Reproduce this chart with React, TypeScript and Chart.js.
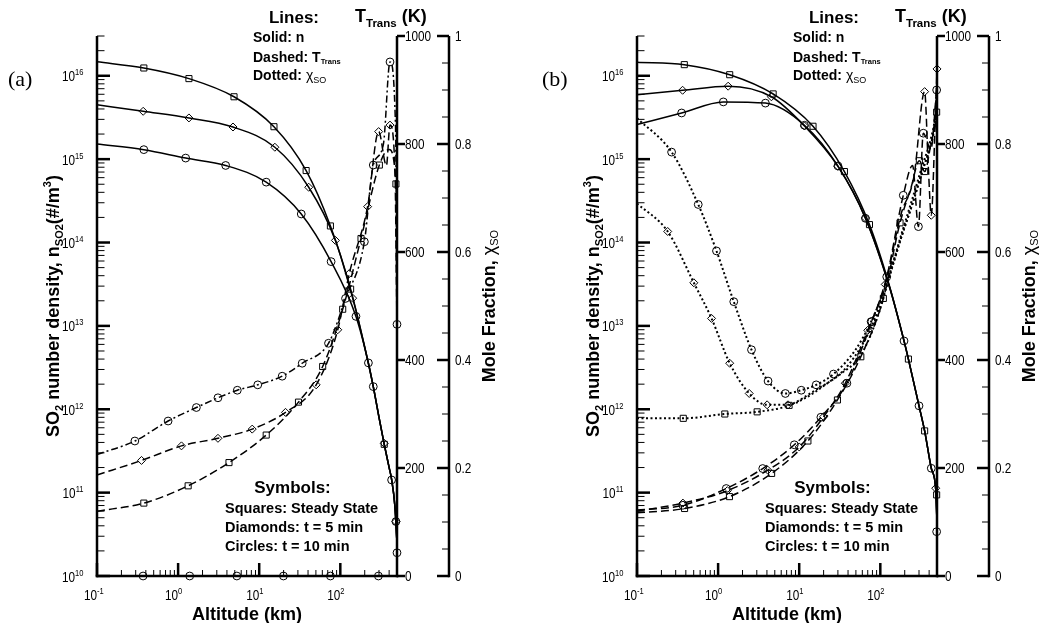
import React, { useEffect, useRef } from "react";
import { Chart, registerables } from "chart.js";

Chart.register(...registerables);

type Pt = [number, number];

// ---------- axis ranges / ticks ----------
const X_MIN = 0.1;
const X_MAX = 500;
const N_MIN = 1e10;
const N_MAX = 3e16;
const T_MIN = 0;
const T_MAX = 1000;
const M_MIN = 0;
const M_MAX = 1;
const X_DECADES = [-1, 0, 1, 2];
const N_DECADES = [10, 11, 12, 13, 14, 15, 16];
const T_TICKS = [0, 200, 400, 600, 800, 1000];
const M_TICKS = [0, 0.2, 0.4, 0.6, 0.8, 1];
const M_MINOR = [0.05, 0.1, 0.15, 0.25, 0.3, 0.35, 0.45, 0.5, 0.55, 0.65, 0.7, 0.75, 0.85, 0.9, 0.95];

// ---------- panel (a) : number density n (log axis) ----------
const aNSquares: Pt[] = [[0.1, 1.47e16], [0.378, 1.24e16], [1.36, 9.25e15], [4.89, 5.6e15], [15.2, 2.45e15], [37.9, 7.3e14], [75.5, 1.58e14], [134, 2.76e13], [200, 5.5e12], [255, 1.87e12], [300, 8e11], [348, 3.8e11], [400, 2e11], [430, 1.42e11], [470, 7e10], [500, 2.5e10]];
const aNSquaresMk: Pt[] = [[0.378, 1.24e16], [1.36, 9.25e15], [4.89, 5.6e15], [15.2, 2.45e15], [37.9, 7.3e14], [75.5, 1.58e14], [134, 2.76e13], [348, 3.8e11]];
const aNDiamonds: Pt[] = [[0.1, 4.5e15], [0.371, 3.75e15], [1.36, 3.12e15], [4.75, 2.43e15], [15.6, 1.39e15], [40.8, 4.6e14], [87, 1.06e14], [142, 2.15e13], [200, 5.6e12], [255, 1.87e12], [300, 8e11], [348, 3.8e11], [400, 2e11], [430, 1.42e11], [470, 7e10], [500, 2.5e10]];
const aNDiamondsMk: Pt[] = [[0.371, 3.75e15], [1.36, 3.12e15], [4.75, 2.43e15], [15.6, 1.39e15], [40.8, 4.6e14], [87, 1.06e14], [142, 2.15e13], [348, 3.9e11], [485, 4.5e10]];
const aNCircles: Pt[] = [[0.1, 1.52e15], [0.378, 1.3e15], [1.24, 1.03e15], [3.86, 8.4e14], [12.2, 5.3e14], [33, 2.2e14], [77, 5.9e13], [156, 1.3e13], [222, 3.6e12], [255, 1.87e12], [300, 8e11], [348, 3.8e11], [400, 2e11], [430, 1.42e11], [470, 7e10], [500, 2.5e10]];
const aNCirclesMk: Pt[] = [[0.378, 1.3e15], [1.24, 1.03e15], [3.86, 8.4e14], [12.2, 5.3e14], [33, 2.2e14], [77, 5.9e13], [156, 1.3e13], [222, 3.6e12], [255, 1.87e12], [429, 1.42e11], [485, 4.5e10], [500, 1.9e10]];

// ---------- panel (a) : translational temperature (K) ----------
const aTSquares: Pt[] = [[0.1, 120], [0.378, 135], [1.33, 167], [4.24, 210], [12.2, 261], [30.5, 322], [60.6, 388], [107, 494], [180, 625], [303, 761], [400, 790], [485, 726], [500, 440]];
const aTSquaresMk: Pt[] = [[0.378, 135], [1.33, 167], [4.24, 210], [12.2, 261], [30.5, 322], [60.6, 388], [107, 494], [180, 625], [303, 761], [485, 726]];
const aTDiamonds: Pt[] = [[0.1, 187], [0.354, 214], [1.1, 241], [3.1, 255], [8.2, 272], [21.1, 303], [50.4, 354], [93, 456], [129, 560], [217, 684], [297, 823], [370, 760], [410, 835], [470, 760], [500, 460]];
const aTDiamondsMk: Pt[] = [[0.354, 214], [1.1, 241], [3.1, 255], [8.2, 272], [21.1, 303], [50.4, 354], [93, 456], [129, 560], [217, 684], [297, 823], [410, 835]];
const aTCircles: Pt[] = [[0.1, 225], [0.293, 250], [0.753, 287], [1.68, 312], [3.1, 330], [5.37, 344], [9.6, 354], [19.2, 370], [33.9, 394], [71.5, 431], [116, 514], [198, 619], [255, 761], [340, 800], [410, 952], [480, 830], [500, 466]];
const aTCirclesMk: Pt[] = [[0.293, 250], [0.753, 287], [1.68, 312], [3.1, 330], [5.37, 344], [9.6, 354], [19.2, 370], [33.9, 394], [71.5, 431], [116, 514], [198, 619], [255, 761], [410, 952], [500, 466]];

// ---------- panel (a) : SO mole fraction ----------
const aXCircles: Pt[] = [[0.1, 0], [500, 0]];
const aXCirclesMk: Pt[] = [[0.37, 0], [1.39, 0], [5.3, 0], [19.9, 0], [75.5, 0], [295, 0]];

// ---------- panel (b) : number density n ----------
const bNSquares: Pt[] = [[0.1, 1.45e16], [0.383, 1.36e16], [1.39, 1.03e16], [4.77, 6.06e15], [14.8, 2.48e15], [36.1, 7.1e14], [73.5, 1.64e14], [130, 3e13], [196, 6.6e12], [222, 4e12], [300, 1.1e12], [352, 5.5e11], [425, 1.96e11], [482, 1.1e11], [500, 4.5e10]];
const bNSquaresMk: Pt[] = [[0.383, 1.36e16], [1.39, 1.03e16], [4.77, 6.06e15], [14.8, 2.48e15], [36.1, 7.1e14], [73.5, 1.64e14], [222, 4e12], [352, 5.5e11], [495, 9.4e10]];
const bNDiamonds: Pt[] = [[0.1, 5.94e15], [0.365, 6.7e15], [1.33, 7.5e15], [4.54, 5.6e15], [11.6, 2.5e15], [30, 8.2e14], [65.6, 1.97e14], [130, 2.9e13], [196, 6.6e12], [222, 4e12], [300, 1.1e12], [352, 5.5e11], [425, 1.96e11], [482, 1.1e11], [500, 4.5e10]];
const bNDiamondsMk: Pt[] = [[0.365, 6.7e15], [1.33, 7.5e15], [4.54, 5.6e15], [11.6, 2.5e15], [30, 8.2e14], [65.6, 1.97e14], [482, 1.13e11]];
const bNCircles: Pt[] = [[0.1, 2.6e15], [0.355, 3.58e15], [1.16, 4.86e15], [3.83, 4.7e15], [11.6, 2.55e15], [30, 8.3e14], [65.6, 1.95e14], [130, 2.9e13], [196, 6.6e12], [222, 4e12], [300, 1.1e12], [352, 5.5e11], [425, 1.96e11], [482, 1.1e11], [500, 4.5e10]];
const bNCirclesMk: Pt[] = [[0.355, 3.58e15], [1.16, 4.86e15], [3.83, 4.7e15], [11.6, 2.55e15], [30, 8.3e14], [65.6, 1.95e14], [196, 6.6e12], [300, 1.1e12], [425, 1.96e11], [495, 3.4e10]];

// ---------- panel (b) : translational temperature ----------
const bTSquares: Pt[] = [[0.1, 117], [0.386, 125], [1.38, 147], [4.57, 190], [12.8, 250], [29.6, 326], [57.5, 406], [109, 514], [175, 654], [240, 720], [303, 769], [352, 749], [420, 800], [495, 859], [500, 870]];
const bTSquaresMk: Pt[] = [[0.386, 125], [1.38, 147], [4.57, 190], [12.8, 250], [29.6, 326], [57.5, 406], [109, 514], [175, 654], [303, 769], [352, 749], [495, 859]];
const bTDiamonds: Pt[] = [[0.1, 120], [0.368, 135], [1.3, 158], [4.1, 196], [10, 239], [20, 295], [37, 357], [70, 455], [115, 540], [180, 670], [260, 740], [352, 897], [390, 760], [425, 668], [470, 820], [500, 939]];
const bTDiamondsMk: Pt[] = [[0.368, 135], [1.3, 158], [4.1, 196], [10, 239], [20, 295], [37, 357], [70, 455], [115, 540], [352, 897], [425, 668], [500, 939]];
const bTCircles: Pt[] = [[0.1, 122], [0.368, 131], [1.26, 162], [3.55, 199], [8.7, 243], [18.5, 294], [38.7, 357], [78.5, 471], [120, 554], [192, 705], [250, 760], [295, 647], [339, 820], [420, 790], [495, 900], [500, 905]];
const bTCirclesMk: Pt[] = [[0.368, 131], [1.26, 162], [3.55, 199], [8.7, 243], [18.5, 294], [38.7, 357], [78.5, 471], [120, 554], [192, 705], [295, 647], [339, 820], [495, 900]];

// ---------- panel (b) : SO mole fraction ----------
const bXSquares: Pt[] = [[0.1, 0.292], [0.372, 0.292], [1.21, 0.3], [3.03, 0.304], [7.5, 0.316], [16.2, 0.345], [33, 0.375], [58, 0.41], [97.5, 0.49], [132, 0.56], [184, 0.63], [250, 0.69], [330, 0.75], [420, 0.8], [472, 0.84], [500, 0.89]];
const bXSquaresMk: Pt[] = [[0.372, 0.292], [1.21, 0.3], [3.03, 0.304], [7.5, 0.316]];
const bXDiamonds: Pt[] = [[0.1, 0.69], [0.239, 0.638], [0.502, 0.543], [0.83, 0.477], [1.39, 0.394], [2.42, 0.338], [4.02, 0.317], [7.28, 0.317], [12, 0.33], [20, 0.352], [40, 0.39], [77, 0.46], [115, 0.53], [184, 0.63], [250, 0.69], [330, 0.75], [420, 0.8], [472, 0.84], [500, 0.89]];
const bXDiamondsMk: Pt[] = [[0.239, 0.638], [0.502, 0.543], [0.83, 0.477], [1.39, 0.394], [2.42, 0.338], [4.02, 0.317], [7.28, 0.317]];
const bXCircles: Pt[] = [[0.1, 0.848], [0.267, 0.785], [0.569, 0.688], [0.955, 0.602], [1.56, 0.508], [2.58, 0.419], [4.13, 0.361], [6.75, 0.338], [10.6, 0.344], [16.2, 0.354], [26.5, 0.374], [50, 0.42], [77, 0.471], [115, 0.535], [184, 0.635], [250, 0.7], [330, 0.76], [420, 0.81], [472, 0.85], [500, 0.9]];
const bXCirclesMk: Pt[] = [[0.267, 0.785], [0.569, 0.688], [0.955, 0.602], [1.56, 0.508], [2.58, 0.419], [4.13, 0.361], [6.75, 0.338], [10.6, 0.344], [16.2, 0.354], [26.5, 0.374], [77, 0.471]];

// ---------- styling ----------
const FONT = '"Liberation Sans", Arial, Helvetica, sans-serif';
const SERIF = '"Liberation Serif", "Times New Roman", serif';
const TICK_SX = 0.84;

const LINE_STYLES: Record<string, { w: number; dash: number[] }> = {
  solid: { w: 1.5, dash: [] },
  dash: { w: 1.5, dash: [8, 4] },
  dashdot: { w: 1.5, dash: [7, 3, 2, 3] },
  dot: { w: 2, dash: [2, 2.5] },
};

type Curve = { pts: Pt[]; marks: Pt[]; axis: string; style: string; shape: string };

const PANELS: { key: string; letter: string; letterX: number; left: number; curves: Curve[] }[] = [
  {
    key: "a", letter: "(a)", letterX: 8, left: 0,
    curves: [
      { pts: aNSquares, marks: aNSquaresMk, axis: "y", style: "solid", shape: "rect" },
      { pts: aNDiamonds, marks: aNDiamondsMk, axis: "y", style: "solid", shape: "rectRot" },
      { pts: aNCircles, marks: aNCirclesMk, axis: "y", style: "solid", shape: "circle" },
      { pts: aTSquares, marks: aTSquaresMk, axis: "yT", style: "dash", shape: "rect" },
      { pts: aTDiamonds, marks: aTDiamondsMk, axis: "yT", style: "dash", shape: "rectRot" },
      { pts: aTCircles, marks: aTCirclesMk, axis: "yT", style: "dashdot", shape: "circle" },
      { pts: aXCircles, marks: aXCirclesMk, axis: "yM", style: "dot", shape: "circle" },
    ],
  },
  {
    key: "b", letter: "(b)", letterX: 2, left: 540,
    curves: [
      { pts: bNSquares, marks: bNSquaresMk, axis: "y", style: "solid", shape: "rect" },
      { pts: bNDiamonds, marks: bNDiamondsMk, axis: "y", style: "solid", shape: "rectRot" },
      { pts: bNCircles, marks: bNCirclesMk, axis: "y", style: "solid", shape: "circle" },
      { pts: bTSquares, marks: bTSquaresMk, axis: "yT", style: "dash", shape: "rect" },
      { pts: bTDiamonds, marks: bTDiamondsMk, axis: "yT", style: "dash", shape: "rectRot" },
      { pts: bTCircles, marks: bTCirclesMk, axis: "yT", style: "dash", shape: "circle" },
      { pts: bXSquares, marks: bXSquaresMk, axis: "yM", style: "dot", shape: "rect" },
      { pts: bXDiamonds, marks: bXDiamondsMk, axis: "yM", style: "dot", shape: "rectRot" },
      { pts: bXCircles, marks: bXCirclesMk, axis: "yM", style: "dot", shape: "circle" },
    ],
  },
];

// ---------- rich text helpers ----------
type Seg = { t: string; size: number; bold?: boolean; dy?: number; serif?: boolean };
function fontOf(s: Seg) {
  return `${s.bold ? "bold " : ""}${s.size}px ${s.serif ? SERIF : FONT}`;
}
function richWidth(ctx: CanvasRenderingContext2D, segs: Seg[]) {
  let w = 0;
  for (const s of segs) {
    ctx.font = fontOf(s);
    w += ctx.measureText(s.t).width;
  }
  return w;
}
function drawRich(ctx: CanvasRenderingContext2D, segs: Seg[], x: number, y: number, align: string, sx = 1) {
  const w = richWidth(ctx, segs) * sx;
  const start = align === "left" ? x : align === "center" ? x - w / 2 : x - w;
  ctx.save();
  ctx.translate(start, y);
  ctx.scale(sx, 1);
  ctx.textAlign = "left";
  ctx.textBaseline = "alphabetic";
  let px = 0;
  for (const s of segs) {
    ctx.font = fontOf(s);
    ctx.fillText(s.t, px, s.dy || 0);
    px += ctx.measureText(s.t).width;
  }
  ctx.restore();
}
function drawRichRotated(ctx: CanvasRenderingContext2D, segs: Seg[], bx: number, cy: number) {
  ctx.save();
  ctx.translate(bx, cy);
  ctx.rotate(-Math.PI / 2);
  drawRich(ctx, segs, 0, 0, "center");
  ctx.restore();
}

function decorPlugin(panel: { key: string; letter: string; letterX: number }) {
  return {
    id: "decor" + panel.key,
    afterDraw(chart: any) {
      const ctx: CanvasRenderingContext2D = chart.ctx;
      const ca = chart.chartArea;
      const xs = chart.scales.x;
      const ys = chart.scales.y;
      const ts = chart.scales.yT;
      const ms = chart.scales.yM;
      ctx.save();
      ctx.strokeStyle = "#000";
      ctx.fillStyle = "#000";
      ctx.lineCap = "butt";
      const seg = (x1: number, y1: number, x2: number, y2: number, w: number) => {
        ctx.lineWidth = w;
        ctx.beginPath();
        ctx.moveTo(x1, y1);
        ctx.lineTo(x2, y2);
        ctx.stroke();
      };
      const AW = 2.5;
      // axis lines
      seg(ca.left, ca.top, ca.left, ca.bottom + AW / 2, AW);
      seg(ca.left - AW / 2, ca.bottom, ca.right + AW / 2, ca.bottom, AW);
      seg(ts.left, ca.top, ts.left, ca.bottom + AW / 2, AW);
      seg(ms.left, ca.top, ms.left, ca.bottom + AW / 2, AW);

      // left log ticks
      for (const e of N_DECADES) {
        for (let k = 1; k <= 9; k++) {
          const v = k * Math.pow(10, e);
          if (v > N_MAX * 1.001) break;
          const py = ys.getPixelForValue(v);
          if (k === 1) seg(ca.left, py, ca.left + 13, py, 2.5);
          else seg(ca.left, py, ca.left + 7.5, py, 1);
        }
      }
      // bottom log ticks
      for (const e of X_DECADES) {
        for (let k = 1; k <= 9; k++) {
          const v = k * Math.pow(10, e);
          if (v > X_MAX * 1.001) break;
          const px = xs.getPixelForValue(v);
          if (k === 1) seg(px, ca.bottom, px, ca.bottom - 13, 2.5);
          else seg(px, ca.bottom, px, ca.bottom - 6, 1);
        }
      }
      // T axis ticks (outward)
      for (const v of T_TICKS) {
        const py = ts.getPixelForValue(v);
        seg(ts.left, py, ts.left + 8, py, 2.5);
      }
      // mole fraction ticks (pointing left)
      for (const v of M_TICKS) {
        const py = ms.getPixelForValue(v);
        seg(ms.left - 12, py, ms.left, py, 2.5);
      }
      for (const v of M_MINOR) {
        const py = ms.getPixelForValue(v);
        seg(ms.left - 7, py, ms.left, py, 1);
      }

      // tick labels
      for (const e of N_DECADES) {
        const py = ys.getPixelForValue(Math.pow(10, e));
        drawRich(ctx, [{ t: "10", size: 14 }, { t: String(e), size: 9, dy: -6 }], ca.left - 13.5, py + 5.5, "right", TICK_SX);
      }
      for (const e of X_DECADES) {
        const px = xs.getPixelForValue(Math.pow(10, e));
        ctx.font = fontOf({ t: "10", size: 14 });
        const w10 = ctx.measureText("10").width * TICK_SX;
        drawRich(ctx, [{ t: "10", size: 14 }, { t: String(e), size: 9, dy: -6.5 }], px - w10, ca.bottom + 24, "left", TICK_SX);
      }
      for (const v of T_TICKS) {
        const py = ts.getPixelForValue(v);
        drawRich(ctx, [{ t: String(v), size: 14 }], ts.left + 8, py + 5, "left", TICK_SX);
      }
      for (const v of M_TICKS) {
        const py = ms.getPixelForValue(v);
        const lab = v === 0 ? "0" : v === 1 ? "1" : v.toFixed(1);
        drawRich(ctx, [{ t: lab, size: 14 }], ms.left + 6, py + 5, "left", TICK_SX);
      }

      // axis titles
      drawRich(ctx, [{ t: "Altitude (km)", size: 18, bold: true }], (ca.left + ca.right) / 2, 619.5, "center");
      drawRichRotated(
        ctx,
        [
          { t: "SO", size: 18, bold: true },
          { t: "2", size: 11, bold: true, dy: 4 },
          { t: " number density, n", size: 18, bold: true },
          { t: "SO2", size: 11, bold: true, dy: 4 },
          { t: "(#/m", size: 18, bold: true },
          { t: "3", size: 11, bold: true, dy: -8 },
          { t: ")", size: 18, bold: true },
        ],
        59,
        (ca.top + ca.bottom) / 2
      );
      drawRichRotated(
        ctx,
        [
          { t: "Mole Fraction, ", size: 18, bold: true },
          { t: "χ", size: 18 },
          { t: "SO", size: 11, dy: 3 },
        ],
        495,
        (ca.top + ca.bottom) / 2
      );
      drawRich(ctx, [{ t: "T", size: 18, bold: true }, { t: "Trans", size: 11.5, bold: true, dy: 4.5 }, { t: " (K)", size: 18, bold: true }], 355, 22, "left");

      // legend texts
      drawRich(ctx, [{ t: "Lines:", size: 17, bold: true }], 294, 23, "center");
      drawRich(ctx, [{ t: "Solid: n", size: 14, bold: true }], 253, 41.7, "left");
      drawRich(ctx, [{ t: "Dashed: T", size: 14, bold: true }, { t: "Trans", size: 7.5, bold: true, dy: 2.5 }], 253, 61.7, "left");
      drawRich(ctx, [{ t: "Dotted: ", size: 14, bold: true }, { t: "χ", size: 14 }, { t: "SO", size: 9, dy: 3 }], 253, 80, "left");

      drawRich(ctx, [{ t: "Symbols:", size: 17, bold: true }], 292.5, 492.5, "center");
      drawRich(ctx, [{ t: "Squares: Steady State", size: 14.5, bold: true }], 225, 513, "left");
      drawRich(ctx, [{ t: "Diamonds: t = 5 min", size: 14.5, bold: true }], 225, 531.7, "left");
      drawRich(ctx, [{ t: "Circles: t = 10 min", size: 14.5, bold: true }], 225, 550.7, "left");

      drawRich(ctx, [{ t: panel.letter, size: 22, serif: true }], panel.letterX, 86, "left");
      ctx.restore();
    },
  };
}

function makeConfig(panel: (typeof PANELS)[number]): any {
  const datasets: any[] = [];
  for (const c of panel.curves) {
    const st = LINE_STYLES[c.style];
    datasets.push({
      type: "line",
      data: c.pts.map(([x, y]) => ({ x, y })),
      yAxisID: c.axis,
      borderColor: "#000",
      borderWidth: st.w,
      borderDash: st.dash,
      pointRadius: 0,
      fill: false,
      cubicInterpolationMode: "monotone",
      clip: false,
    });
    datasets.push({
      type: "line",
      data: c.marks.map(([x, y]) => ({ x, y })),
      yAxisID: c.axis,
      showLine: false,
      pointStyle: c.shape,
      pointRadius: c.shape === "rect" ? 4.3 : c.shape === "rectRot" ? 4 : 3.9,
      pointBorderWidth: 1,
      pointBorderColor: "#000",
      pointBackgroundColor: "rgba(255,255,255,0)",
      clip: false,
    });
  }
  const hidden = { ticks: { display: false }, grid: { display: false }, border: { display: false } };
  return {
    type: "line",
    data: { datasets },
    options: {
      responsive: false,
      animation: false,
      events: [],
      layout: { padding: { top: 36, bottom: 17, left: 0, right: 0 }, autoPadding: false },
      plugins: { legend: { display: false }, tooltip: { enabled: false }, title: { display: false } },
      scales: {
        x: { type: "logarithmic", position: "bottom", min: X_MIN, max: X_MAX, ...hidden, afterFit: (s: any) => { s.height = 30; } },
        y: { type: "logarithmic", position: "left", min: N_MIN, max: N_MAX, ...hidden, afterFit: (s: any) => { s.width = 97; } },
        yT: { type: "linear", position: "right", min: T_MIN, max: T_MAX, ...hidden, afterFit: (s: any) => { s.width = 52; } },
        yM: { type: "linear", position: "right", min: M_MIN, max: M_MAX, ...hidden, afterFit: (s: any) => { s.width = 71; } },
      },
    },
    plugins: [decorPlugin(panel)],
  };
}

export default function App() {
  const refA = useRef<HTMLCanvasElement>(null);
  const refB = useRef<HTMLCanvasElement>(null);
  useEffect(() => {
    const refs = [refA, refB];
    const charts = refs.map((r, i) => new Chart(r.current as HTMLCanvasElement, makeConfig(PANELS[i])));
    return () => charts.forEach((c) => c.destroy());
  }, []);
  return (
    <div style={{ position: "fixed", left: 0, top: 0, width: 1039, height: 623, background: "#fff", overflow: "hidden" }}>
      <canvas ref={refA} width={520} height={623} style={{ position: "absolute", left: PANELS[0].left, top: 0, width: 520, height: 623 }} />
      <canvas ref={refB} width={520} height={623} style={{ position: "absolute", left: PANELS[1].left, top: 0, width: 520, height: 623 }} />
    </div>
  );
}
